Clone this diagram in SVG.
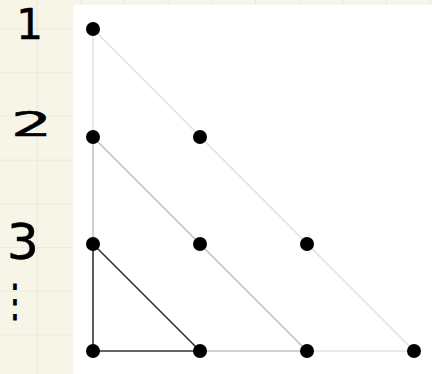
<svg xmlns="http://www.w3.org/2000/svg" width="432" height="374" viewBox="0 0 432 374">
<style>
.grid{stroke:#e4e1d0;stroke-width:1.2}
.hand{font-family:"DejaVu Sans",sans-serif;fill:#000;stroke:#000;stroke-width:0.6;stroke-linejoin:round}
.dot{fill:#000}
.l1{stroke:#e2e2e2;stroke-width:1.6;fill:none}
.l2{stroke:#c2c2c2;stroke-width:1.6;fill:none}
.l3{stroke:#333;stroke-width:1.6;fill:none}
</style>
<defs>
<pattern id="gp" x="36.5" y="28.5" width="43.7" height="43.7" patternUnits="userSpaceOnUse">
<path d="M0 0V43.7M0 0H43.7" class="grid"/>
</pattern>
</defs>
<g id="paper">
<rect width="432" height="374" fill="#f7f5e8"/>
<rect width="432" height="374" fill="url(#gp)"/>
<rect x="73.5" y="4.7" width="358.5" height="369.3" fill="#fff"/>
</g>
<g id="labels">
<text class="hand" x="29.5" y="39" font-size="42" text-anchor="middle">1</text>
<text class="hand" x="0" y="0" font-size="34" text-anchor="middle" transform="translate(31.5 136) scale(1.9 1)">2</text>
<text class="hand" x="23" y="259" font-size="50" text-anchor="middle">3</text>
<text class="hand" x="0" y="0" font-size="30" text-anchor="middle" stroke-width="0.4" transform="translate(15 316) scale(1 1.5)">⋮</text>
</g>
<g id="connectors">
<path class="l1" d="M93 29L414 351M93 29V137M307 351H414"/>
<path class="l2" d="M93 137L307 351M93 137V244M200 351H307"/>
<path class="l3" d="M93 244L200 351M93 244V351H200"/>
</g>
<g id="nodes">
<circle id="n1" class="dot" cx="93" cy="29" r="7"/>
<circle id="n2" class="dot" cx="93" cy="137" r="7"/>
<circle id="n3" class="dot" cx="200" cy="137" r="7"/>
<circle id="n4" class="dot" cx="93" cy="244" r="7"/>
<circle id="n5" class="dot" cx="200" cy="244" r="7"/>
<circle id="n6" class="dot" cx="307" cy="244" r="7"/>
<circle id="n7" class="dot" cx="93" cy="351" r="7"/>
<circle id="n8" class="dot" cx="200" cy="351" r="7"/>
<circle id="n9" class="dot" cx="307" cy="351" r="7"/>
<circle id="n10" class="dot" cx="414" cy="351" r="7"/>
</g>
</svg>
